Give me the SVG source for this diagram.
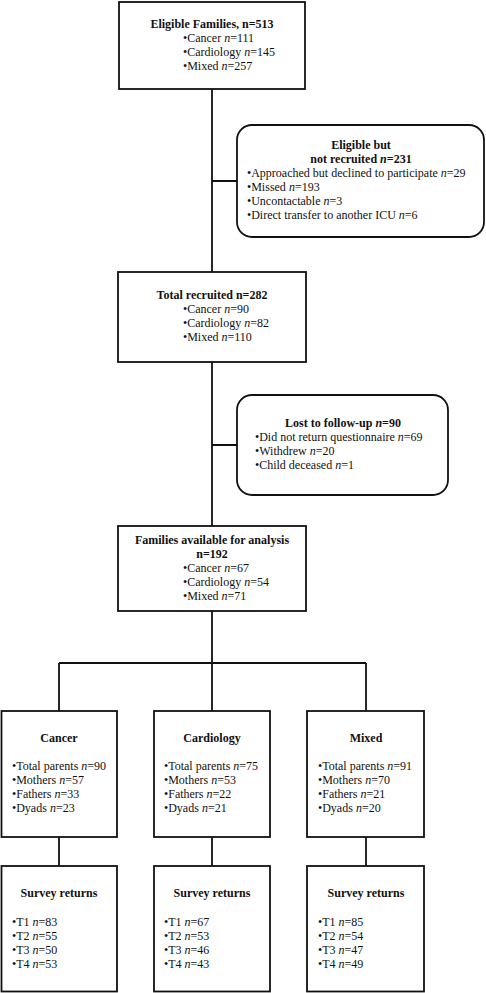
<svg xmlns="http://www.w3.org/2000/svg" width="486" height="993" viewBox="0 0 486 993">
<style>
.b{fill:#fff;stroke:#111;stroke-width:1.8}
.c{fill:none;stroke:#111;stroke-width:1.8}
text{font-family:"Liberation Serif","Times New Roman",serif;font-size:12px;fill:#111}
.t{font-weight:bold;text-anchor:middle}
.i{font-style:italic}
</style>
<rect width="486" height="993" fill="#fff"/>
<g id="connectors">
<path class="c" d="M212,89V272M212,181H237M212,362V526M212,445H237M212,611V663M59,663H366M59,663V711M212,663V711M366,663V711M59,837V866M212,837V866M366,837V866"/>
</g>
<g id="eligible">
<rect class="b" x="119" y="2" width="186" height="87"/>
<text class="t" x="212" y="28">Eligible Families, n=513</text>
<text x="183" y="42">•Cancer <tspan class="i">n</tspan>=111</text>
<text x="183" y="56">•Cardiology <tspan class="i">n</tspan>=145</text>
<text x="183" y="70">•Mixed <tspan class="i">n</tspan>=257</text>
</g>
<g id="notrecruited">
<rect class="b" x="237" y="125" width="247" height="112" rx="15"/>
<text class="t" x="361" y="149">Eligible but</text>
<text class="t" x="361" y="163">not recruited <tspan class="i">n</tspan>=231</text>
<text x="247" y="177">•Approached but declined to participate <tspan class="i">n</tspan>=29</text>
<text x="247" y="191">•Missed <tspan class="i">n</tspan>=193</text>
<text x="247" y="205">•Uncontactable <tspan class="i">n</tspan>=3</text>
<text x="247" y="219">•Direct transfer to another ICU <tspan class="i">n</tspan>=6</text>
</g>
<g id="recruited">
<rect class="b" x="118" y="272" width="188" height="90"/>
<text class="t" x="212" y="299">Total recruited n=282</text>
<text x="183" y="313">•Cancer <tspan class="i">n</tspan>=90</text>
<text x="183" y="327">•Cardiology <tspan class="i">n</tspan>=82</text>
<text x="183" y="341">•Mixed <tspan class="i">n</tspan>=110</text>
</g>
<g id="lost">
<rect class="b" x="237" y="395" width="211" height="100" rx="15"/>
<text class="t" x="343" y="427">Lost to follow-up <tspan class="i">n</tspan>=90</text>
<text x="255" y="441">•Did not return questionnaire <tspan class="i">n</tspan>=69</text>
<text x="255" y="455">•Withdrew <tspan class="i">n</tspan>=20</text>
<text x="255" y="469">•Child deceased <tspan class="i">n</tspan>=1</text>
</g>
<g id="available">
<rect class="b" x="118" y="526" width="188" height="85"/>
<text class="t" x="212" y="544">Families available for analysis</text>
<text class="t" x="212" y="558">n=192</text>
<text x="183" y="572">•Cancer <tspan class="i">n</tspan>=67</text>
<text x="183" y="586">•Cardiology <tspan class="i">n</tspan>=54</text>
<text x="183" y="600">•Mixed <tspan class="i">n</tspan>=71</text>
</g>
<g id="cancer">
<rect class="b" x="1.5" y="711" width="115.5" height="126"/>
<text class="t" x="59" y="742">Cancer</text>
<text x="12" y="770">•Total parents <tspan class="i">n</tspan>=90</text>
<text x="12" y="784">•Mothers <tspan class="i">n</tspan>=57</text>
<text x="12" y="798">•Fathers <tspan class="i">n</tspan>=33</text>
<text x="12" y="812">•Dyads <tspan class="i">n</tspan>=23</text>
</g>
<g id="cardiology">
<rect class="b" x="154" y="711" width="116" height="126"/>
<text class="t" x="212" y="742">Cardiology</text>
<text x="164" y="770">•Total parents <tspan class="i">n</tspan>=75</text>
<text x="164" y="784">•Mothers <tspan class="i">n</tspan>=53</text>
<text x="164" y="798">•Fathers <tspan class="i">n</tspan>=22</text>
<text x="164" y="812">•Dyads <tspan class="i">n</tspan>=21</text>
</g>
<g id="mixed">
<rect class="b" x="307" y="711" width="117" height="126"/>
<text class="t" x="366" y="742">Mixed</text>
<text x="318" y="770">•Total parents <tspan class="i">n</tspan>=91</text>
<text x="318" y="784">•Mothers <tspan class="i">n</tspan>=70</text>
<text x="318" y="798">•Fathers <tspan class="i">n</tspan>=21</text>
<text x="318" y="812">•Dyads <tspan class="i">n</tspan>=20</text>
</g>
<g id="survey-cancer">
<rect class="b" x="1.5" y="866" width="115.5" height="125.5"/>
<text class="t" x="59" y="897">Survey returns</text>
<text x="12" y="926">•T1 <tspan class="i">n</tspan>=83</text>
<text x="12" y="940">•T2 <tspan class="i">n</tspan>=55</text>
<text x="12" y="954">•T3 <tspan class="i">n</tspan>=50</text>
<text x="12" y="968">•T4 <tspan class="i">n</tspan>=53</text>
</g>
<g id="survey-cardiology">
<rect class="b" x="154" y="866" width="116" height="125.5"/>
<text class="t" x="212" y="897">Survey returns</text>
<text x="164" y="926">•T1 <tspan class="i">n</tspan>=67</text>
<text x="164" y="940">•T2 <tspan class="i">n</tspan>=53</text>
<text x="164" y="954">•T3 <tspan class="i">n</tspan>=46</text>
<text x="164" y="968">•T4 <tspan class="i">n</tspan>=43</text>
</g>
<g id="survey-mixed">
<rect class="b" x="307" y="866" width="117" height="125.5"/>
<text class="t" x="366" y="897">Survey returns</text>
<text x="318" y="926">•T1 <tspan class="i">n</tspan>=85</text>
<text x="318" y="940">•T2 <tspan class="i">n</tspan>=54</text>
<text x="318" y="954">•T3 <tspan class="i">n</tspan>=47</text>
<text x="318" y="968">•T4 <tspan class="i">n</tspan>=49</text>
</g>
</svg>
